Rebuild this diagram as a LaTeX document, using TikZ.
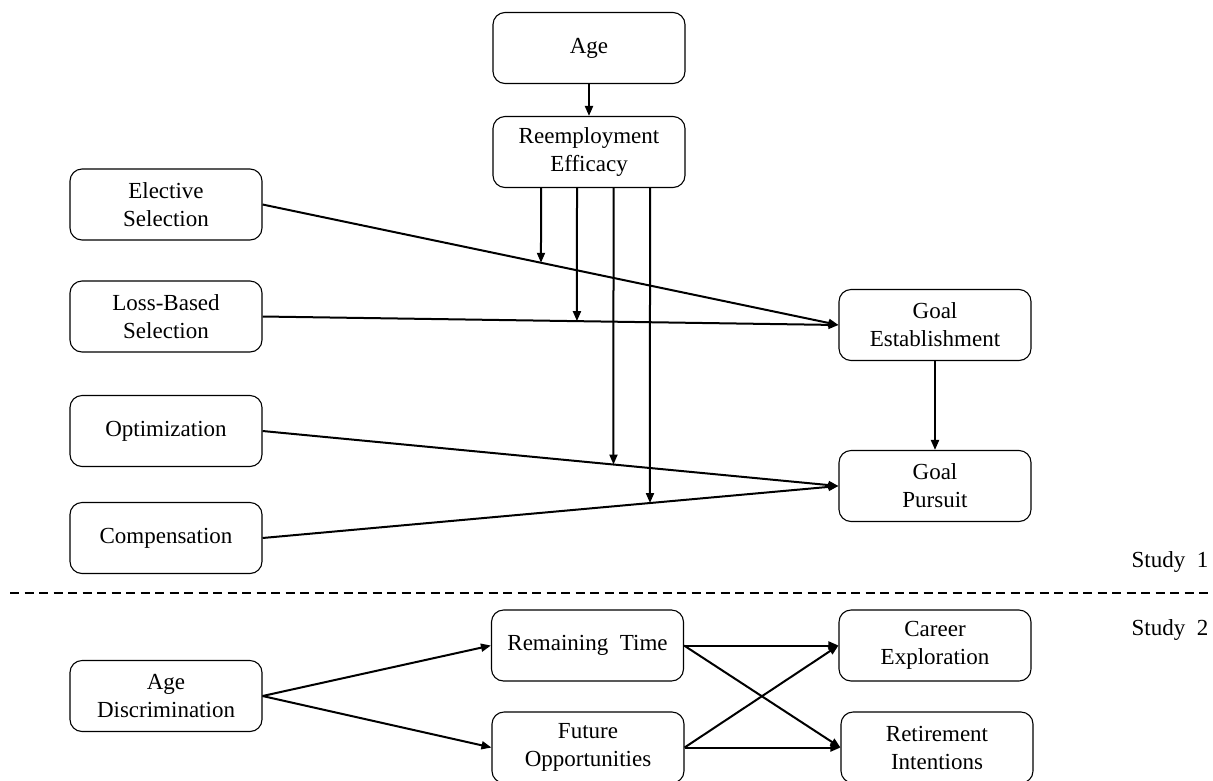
\documentclass[tikz,border=0pt]{standalone}
\usepackage{fontspec}
\setmainfont{Liberation Serif}
\usetikzlibrary{arrows.meta,calc}
\begin{document}
\begin{tikzpicture}[x=1pt,y=-1pt,
  box/.style={draw, line width=1.1pt, rounded corners=12pt, minimum width=192pt, minimum height=71pt, align=center, inner sep=2pt, font=\fontsize{23}{28}\selectfont},
  arr/.style={line width=2pt, -{Triangle[length=10pt,width=8pt]}},
  lbl/.style={font=\fontsize{23}{28}\selectfont, inner sep=0pt}]
\useasboundingbox (0,0) rectangle (1213,780);
% Study 1 nodes
\node[box] (age) at (589,48) {Age};
\node[box] (re) at (589,152) {Reemployment\\Efficacy};
\node[box] (es) at (166,204.5) {Elective\\Selection};
\node[box] (lb) at (166,316.5) {Loss-Based\\Selection};
\node[box] (op) at (166,431) {Optimization};
\node[box] (co) at (166,538) {Compensation};
\node[box] (ge) at (935,325) {Goal\\Establishment};
\node[box] (gp) at (935,486) {Goal\\Pursuit};
\node[lbl] (s1) at (1170,562) {Study\ \ 1};
\node[lbl] (s2) at (1170,630) {Study\ \ 2};
% divider
\coordinate (dl) at (10,593);
\coordinate (dr) at (1213,593);
\draw[line width=1.6pt, dash pattern=on 9pt off 5.5pt] (dl) -- (dr);
% Study 1 arrows
\draw[arr] (age) -- (re);
\draw[arr] (es.east) -- (ge.west);
\draw[arr] (lb.east) -- (ge.west);
\draw[arr] (op.east) -- (gp.west);
\draw[arr] (co.east) -- (gp.west);
\draw[arr] (ge) -- (gp);
% moderation arrows
\coordinate (v1) at (541,0);   \coordinate (w1) at (541,800);
\coordinate (v2) at (577,0);   \coordinate (w2) at (577,800);
\coordinate (v3) at (613.5,0); \coordinate (w3) at (613.5,800);
\coordinate (v4) at (650,0);   \coordinate (w4) at (650,800);
\coordinate (m1) at (intersection of es.east--ge.west and v1--w1);
\coordinate (m2) at (intersection of lb.east--ge.west and v2--w2);
\coordinate (m3) at (intersection of op.east--gp.west and v3--w3);
\coordinate (m4) at (intersection of co.east--gp.west and v4--w4);
\draw[arr] (re.south -| v1) -- (m1);
\draw[arr] (re.south -| v2) -- (m2);
\draw[arr] (re.south -| v3) -- (m3);
\draw[arr] (re.south -| v4) -- (m4);
% Study 2 nodes
\node[box] (ad) at (166,696) {Age\\Discrimination};
\node[box] (rt) at (587.5,645.5) {Remaining\ \ Time};
\node[box] (fo) at (588,747.5) {Future\\Opportunities};
\node[box] (ce) at (935,645.5) {Career\\Exploration};
\node[box] (ri) at (937,747.5) {Retirement\\Intentions};
% Study 2 arrows
\draw[arr] (ad.east) -- (rt.west);
\draw[arr] (ad.east) -- (fo.west);
\draw[arr] (rt.east) -- (ce.west);
\draw[arr] (rt.east) -- (ri.west);
\draw[arr] (fo.east) -- (ce.west);
\draw[arr] (fo.east) -- (ri.west);
\end{tikzpicture}
\end{document}
